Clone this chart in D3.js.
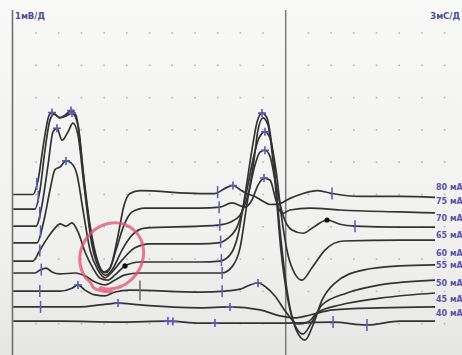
<!DOCTYPE html>
<html>
<head>
<meta charset="utf-8">
<script src="https://cdn.jsdelivr.net/npm/d3@7"></script>
<style>
  html, body { margin: 0; padding: 0; background: #f1f1ef; }
  svg { display: block; font-family: "DejaVu Sans", sans-serif; }
</style>
</head>
<body>
<svg id="chart" width="462" height="355"></svg>
<script>
// stimulus intensity of each sweep, top to bottom
const traceNames = ['80 мА', '75 мА', '70 мА', '65 мА', '60 мА', '55 мА', '50 мА', '45 мА', '40 мА'];
// display offset of each sweep (mV)
const baselines = [4.0, 3.55, 3.02, 2.5, 1.94, 1.57, 1.01, 0.52, 0.08];

// [time ms, amplitude mV relative to the sweep baseline]
const trace80 = [[0, 0], [2.6, 0], [3.26, 0.43], [4.06, 1.67], [4.72, 2.45], [5.11, 2.54], [6.17, 2.38], [6.96, 2.48],
  [7.63, 2.6], [8.29, 2.45], [8.81, 1.67], [9.48, 0.12], [10.4, -1.42], [11.46, -2.29], [12.25, -2.42], [13.04, -2.11],
  [13.84, -1.27], [14.63, -0.34], [15.42, 0.03], [16.74, 0.12], [24.67, 0.03], [26.65, 0.03], [27.98, 0.19], [29.03, 0.28],
  [29.96, 0.15], [30.86, 0.03], [31.94, -0.06], [32.87, -0.19], [33.92, -0.31], [35.24, -0.28], [36.56, -0.12], [37.89, 0],
  [39.21, 0.09], [40.27, 0.12], [42.12, 0.03], [45.82, -0.06], [51.1, -0.06], [55.73, -0.09]];
const trace75 = [[0, 0], [2.87, 0], [3.53, 0.59], [4.19, 1.83], [4.85, 2.76], [5.38, 2.94], [6.17, 2.82], [6.96, 2.88],
  [7.76, 2.97], [8.55, 2.6], [9.21, 1.21], [10.14, -0.5], [11.19, -1.64], [11.99, -1.95], [12.78, -1.83], [13.57, -1.27],
  [14.63, -0.5], [15.69, -0.09], [17.4, 0.03], [24.67, 0.03], [27.31, 0.06], [28.9, 0.19], [30.62, 0.06], [31.54, 0.28],
  [32.34, 0.74], [33.13, 0.96], [33.92, 0.9], [34.71, 0.28], [35.51, -0.15], [36.56, -0.03], [39.21, 0.03], [43.17, -0.03],
  [51.1, -0.09], [55.73, -0.12]];
const trace70 = [[0, 0], [3.0, 0], [3.79, 0.65], [4.59, 1.89], [5.25, 2.92], [5.77, 3.03], [6.44, 2.66], [7.23, 2.92],
  [7.89, 3.19], [8.55, 2.82], [9.34, 1.27], [10.4, -0.59], [11.46, -1.36], [12.25, -1.52], [13.18, -1.3], [14.37, -0.74],
  [15.69, -0.28], [17.4, -0.06], [24.67, 0], [27.05, 0.03], [28.64, 0.12], [29.96, 0.34], [31.01, 0.96], [31.94, 1.89],
  [32.6, 2.29], [33.26, 2.35], [33.92, 2.17], [34.71, 1.27], [35.64, 0.34], [36.83, -0.12], [38.28, -0.22], [39.87, 0],
  [41.46, 0.19], [43.17, 0.06], [45.16, 0], [51.1, -0.03], [55.73, -0.03]];
const trace65 = [[0, 0], [3.13, 0], [4.06, 0.71], [4.85, 1.64], [5.51, 2.27], [6.17, 2.35], [6.96, 2.54], [7.63, 2.48],
  [8.42, 2.11], [9.21, 1.02], [10.14, -0.22], [11.19, -0.84], [12.12, -1.08], [13.04, -0.9], [14.37, -0.53], [16.08, -0.15],
  [18.06, -0.03], [24.67, -0.03], [27.05, 0], [28.37, 0.15], [29.69, 0.56], [30.75, 1.49], [31.67, 2.57], [32.47, 3.25],
  [33.26, 3.44], [33.92, 3.25], [34.71, 2.26], [35.51, 0.71], [36.56, -0.59], [38.15, -1.15], [39.47, -0.77], [41.19, -0.22],
  [43.6, 0.06], [51.1, 0.09], [55.73, 0.09]];
const trace60 = [[0, 0], [2.6, 0], [3.53, 0.34], [4.59, 0.74], [5.51, 1.02], [6.17, 1.15], [6.96, 1.08], [7.76, 1.18],
  [8.55, 0.9], [9.48, 0.28], [10.53, -0.22], [11.46, -0.53], [12.51, -0.59], [13.44, -0.43], [14.76, -0.15], [16.74, -0.03],
  [24.67, -0.03], [27.31, 0], [28.64, 0.19], [29.69, 0.8], [30.62, 2.04], [31.54, 3.44], [32.21, 4.3], [32.87, 4.58],
  [33.53, 4.43], [34.32, 3.28], [35.24, 0.96], [36.17, -0.9], [37.4, -2.14], [38.55, -2.45], [39.61, -1.98], [40.8, -1.21],
  [42.51, -0.68], [46.22, -0.28], [51.1, -0.15], [55.73, -0.12]];
const trace55 = [[0, 0], [2.87, 0], [3.53, 0.09], [4.32, 0.15], [5.11, 0.03], [6.17, -0.03], [8.15, 0], [9.48, -0.09],
  [10.8, -0.28], [12.12, -0.37], [13.44, -0.22], [14.76, -0.06], [16.74, 0], [24.67, 0], [27.58, 0], [28.9, 0.19],
  [29.96, 0.77], [30.86, 2.11], [31.81, 3.5], [32.34, 4.43], [33.0, 4.8], [33.66, 4.58], [34.45, 3.19], [35.37, 0.71],
  [36.3, -0.84], [37.4, -1.7], [38.28, -1.89], [39.47, -1.52], [40.8, -0.99], [44.1, -0.62], [48.46, -0.37], [55.73, -0.22]];
const trace50 = [[0, 0], [6.17, 0], [7.76, 0.09], [8.55, 0.19], [9.48, 0.03], [10.8, -0.12], [12.12, -0.15], [13.44, -0.03],
  [15.42, 0.03], [24.67, -0.03], [27.98, 0], [29.96, 0.06], [31.28, 0.19], [32.34, 0.25], [33.4, 0.12], [34.58, -0.15],
  [36.04, -0.65], [37.62, -1.02], [38.94, -0.96], [40.27, -0.65], [43.17, -0.43], [48.46, -0.22], [55.73, -0.06]];
const trace45 = [[0, 0], [8.81, 0], [11.46, 0.06], [13.84, 0.12], [16.74, 0.06], [24.67, -0.03], [28.64, 0], [32.6, -0.09],
  [35.24, -0.28], [37.22, -0.34], [39.21, -0.25], [42.26, -0.09], [48.46, -0.03], [55.73, 0]];
const trace40 = [[0, 0], [6.17, 0], [14.1, -0.03], [20.44, 0], [24.67, -0.06], [26.65, -0.06], [35.64, -0.06],
  [42.26, -0.03], [46.74, -0.12], [51.1, 0], [55.73, 0]];
const traces = [trace80, trace75, trace70, trace65, trace60, trace55, trace50, trace45, trace40];

// cursor marks placed by the machine: [kind, sweep index, time ms]
const marks = [
  ['tick', 0, 3.1], ['tick', 1, 3.3], ['tick', 2, 3.5], ['tick', 3, 3.6], ['tick', 4, 3.5], ['tick', 5, 3.7], ['tick', 6, 3.5], ['tick', 7, 3.6],
  ['cross', 0, 5.11], ['cross', 0, 7.63], ['cross', 1, 7.76], ['cross', 2, 5.77], ['cross', 3, 6.96],
  ['cross', 6, 8.55], ['cross', 7, 13.84], ['dot', 4, 14.76], ['gtick', 6, 16.74], ['cross', 8, 20.44], ['cross', 8, 21.1],
  ['tick', 0, 27.0], ['tick', 1, 27.2], ['tick', 2, 27.3], ['tick', 3, 27.4], ['tick', 4, 27.5], ['tick', 5, 27.6], ['tick', 6, 27.6],
  ['cross', 8, 26.65], ['cross', 7, 28.64],
  ['cross', 0, 29.03], ['cross', 1, 33.13], ['cross', 2, 33.26], ['cross', 3, 33.26], ['cross', 4, 32.87], ['cross', 6, 32.34],
  ['tick', 0, 42.12], ['dot', 2, 41.46], ['tick', 2, 45.16], ['tick', 8, 42.26], ['tick', 8, 46.74]
];

// hand drawn circle on the screen: centre time, centre mV, radius ms, radius mV
const circleNote = [13.0, 2.1, 4.2, 1.02];

const scaleLabels = ['1мВ/Д', '3мС/Д'];
const gridCols = d3.range(3, 58, 3);   // ms, one division = 3 ms
const gridRows = d3.range(0, 10, 1);   // mV, one division = 1 mV
const splitTime = 36;

const width = 462;
const height = 355;
const svg = d3.select('#chart');

const x = d3.scaleLinear().domain([0, 60]).range([13.3, 13.3 + 60 * 22.7 / 3]);
const y = d3.scaleLinear().domain([0, 10]).range([323.7, 0.7]);

const defs = svg.append('defs');
const grad = defs.append('linearGradient').attr('id', 'bg').attr('x1', 0).attr('y1', 0).attr('x2', 0).attr('y2', 1);
grad.append('stop').attr('offset', '0%').attr('stop-color', '#f8f8f7');
grad.append('stop').attr('offset', '70%').attr('stop-color', '#f0f0ee');
grad.append('stop').attr('offset', '100%').attr('stop-color', '#e6e6e4');
defs.append('filter').attr('id', 'soft').append('feGaussianBlur').attr('stdDeviation', 0.35);

svg.append('rect').attr('width', width).attr('height', height).attr('fill', 'url(#bg)');

// dotted grid
const dots = [];
gridRows.forEach((r) => gridCols.forEach((c) => { if (c !== splitTime) dots.push([c, r]); }));
svg.append('g')
  .selectAll('rect')
  .data(dots)
  .enter()
  .append('rect')
  .attr('x', (d) => x(d[0]) - 0.8)
  .attr('y', (d) => y(d[1]) - 0.8)
  .attr('width', 1.6)
  .attr('height', 1.6)
  .attr('fill', '#b4b4b8');

// frame lines
svg.append('line')
  .attr('x1', x(0) - 0.8).attr('x2', x(0) - 0.8).attr('y1', 10).attr('y2', height)
  .attr('stroke', '#6e6e6e').attr('stroke-width', 1.6);
svg.append('line')
  .attr('x1', x(splitTime)).attr('x2', x(splitTime)).attr('y1', 10).attr('y2', height)
  .attr('stroke', '#7a7a7a').attr('stroke-width', 1.5);

svg.append('text').attr('x', 15).attr('y', 19).text(scaleLabels[0])
  .attr('font-size', 8.5).attr('font-weight', 'bold').attr('fill', '#4d4d9c');
svg.append('text').attr('x', width - 2).attr('y', 19).attr('text-anchor', 'end').text(scaleLabels[1])
  .attr('font-size', 8.5).attr('font-weight', 'bold').attr('fill', '#4d4d9c');

// sweeps
const line = d3.line().curve(d3.curveMonotoneX);
svg.append('g')
  .attr('filter', 'url(#soft)')
  .selectAll('path')
  .data(traces)
  .enter()
  .append('path')
  .attr('d', (d, i) => line(d.map((p) => [x(p[0]), y(baselines[i] + p[1])])))
  .attr('fill', 'none')
  .attr('stroke', '#333335')
  .attr('stroke-width', 1.7)
  .attr('stroke-linejoin', 'round');

// value of a sweep at time t, for the marks
function valueAt(i, t) {
  const tr = traces[i];
  for (let k = 1; k < tr.length; k++) {
    if (tr[k][0] >= t) {
      const a = tr[k - 1];
      const b = tr[k];
      return baselines[i] + a[1] + ((b[1] - a[1]) * (t - a[0])) / (b[0] - a[0]);
    }
  }
  return baselines[i] + tr[tr.length - 1][1];
}

const markG = svg.append('g').attr('filter', 'url(#soft)');
marks.forEach(([kind, i, t]) => {
  const mx = x(t);
  const my = y(valueAt(i, t));
  if (kind === 'dot') {
    markG.append('circle').attr('cx', mx).attr('cy', my).attr('r', 2.6).attr('fill', '#111');
  } else if (kind === 'tick' || kind === 'gtick') {
    const half = kind === 'gtick' ? 10 : 6;
    markG.append('line').attr('x1', mx).attr('x2', mx).attr('y1', my - half).attr('y2', my + half)
      .attr('stroke', kind === 'gtick' ? '#6a6a6a' : '#5a5ab2').attr('stroke-width', 1.5);
  } else {
    markG.append('path')
      .attr('d', `M${mx - 4},${my}H${mx + 4}M${mx},${my - 4}V${my + 4}`)
      .attr('stroke', '#5a5ab2').attr('stroke-width', 1.6);
  }
});

// red hand drawn circle
const [ct, cv, rt, rv] = circleNote;
const ring = d3.range(-110, 275, 10).map((deg) => {
  const a = (deg * Math.PI) / 180;
  const k = 1 + 0.05 * Math.sin(a * 2) + (deg > 230 ? 0.08 : 0);
  return [x(ct + rt * k * Math.cos(a)), y(cv + rv * k * Math.sin(a))];
});
svg.append('path')
  .attr('d', d3.line().curve(d3.curveCatmullRom)(ring))
  .attr('fill', 'none')
  .attr('stroke', '#e2506c')
  .attr('stroke-width', 3)
  .attr('stroke-opacity', 0.75)
  .attr('stroke-linecap', 'round');

// sweep labels at the right edge
svg.append('g')
  .selectAll('text')
  .data(traceNames)
  .enter()
  .append('text')
  .attr('x', 436)
  .attr('y', (d, i) => y(baselines[i]) - 5)
  .text((d) => d)
  .attr('font-size', 8)
  .attr('font-weight', 'bold')
  .attr('fill', '#5656a8');
</script>
</body>
</html>
